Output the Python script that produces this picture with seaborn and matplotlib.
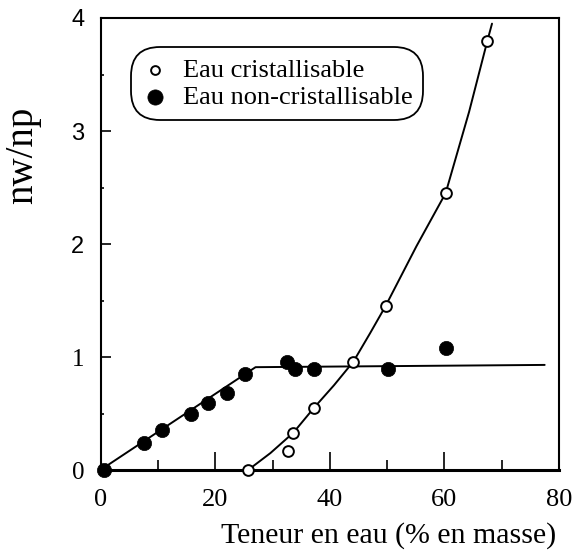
import matplotlib
matplotlib.use("Agg")
import matplotlib.pyplot as plt
import seaborn as sns

# Water content (% by mass) and water/polymer molar ratio
cris_x = [25.7, 32.7, 33.6, 37.2, 44.1, 49.7, 60.2, 67.5]
cris_y = [0.0, 0.17, 0.33, 0.55, 0.96, 1.45, 2.45, 3.80]

non_x = [0.5, 7.5, 10.7, 15.8, 18.7, 22.0, 25.2, 32.5, 33.9, 37.2, 50.2, 60.3]
non_y = [0.0, 0.24, 0.35, 0.50, 0.59, 0.68, 0.85, 0.96, 0.89, 0.89, 0.89, 1.08]

# Guide curves through each series
cris_fit_x = [25.7, 29.6, 33.6, 37.2, 40.7, 44.1, 47.0, 49.7, 55.1, 60.2,
              64.3, 67.5, 68.3]
cris_fit_y = [0.0, 0.15, 0.33, 0.55, 0.75, 0.96, 1.21, 1.45, 1.98, 2.45,
              3.17, 3.80, 3.95]
non_fit_x = [0.5, 27.0, 77.5]
non_fit_y = [0.02, 0.91, 0.93]

x_ticks = [0, 20, 40, 60, 80]
y_ticks = [0, 1, 2, 3, 4]
label_cris = "Eau cristallisable"
label_non = "Eau non-cristallisable"

sns.set_theme(style="ticks")
plt.rcParams["font.family"] = ["Liberation Serif", "DejaVu Serif"]

fig = plt.figure(figsize=(5.78, 5.59), dpi=100)
ax = fig.add_axes([0.1747, 0.1592, 0.7924, 0.8086])

sns.lineplot(x=cris_fit_x, y=cris_fit_y, color="black", lw=1.4, ax=ax,
             estimator=None, zorder=2)
sns.lineplot(x=non_fit_x, y=non_fit_y, color="black", lw=1.4, ax=ax,
             estimator=None, zorder=2)

sns.scatterplot(x=cris_x, y=cris_y, marker="o", s=60, facecolor="white",
                edgecolor="black", linewidth=1.4, zorder=4, ax=ax,
                label=label_cris, clip_on=False)
sns.scatterplot(x=non_x, y=non_y, marker="o", s=105, color="black",
                edgecolor="black", linewidth=0.5, zorder=4, ax=ax,
                label=label_non, clip_on=False)

ax.set_xlim(0, 80)
ax.set_ylim(0, 4)
ax.set_xticks(x_ticks)
ax.set_xticks([10, 30, 50, 70], minor=True)
ax.set_yticks(y_ticks)
ax.set_yticks([0.5, 1.5, 2.5, 3.5], minor=True)
ax.set_xticklabels([str(v) for v in x_ticks], fontsize=19, color="black")
ax.set_yticklabels([str(v) for v in y_ticks], fontsize=18, color="black")
for lab, v in zip(ax.get_yticklabels(), y_ticks):
    if v >= 2:
        lab.set_family(["Liberation Sans", "DejaVu Sans"])
        lab.set_fontsize(17)

for side in ["left", "bottom", "right", "top"]:
    ax.spines[side].set_linewidth(1.5)
    ax.spines[side].set_color("black")
ax.spines["bottom"].set_linewidth(2.2)

ax.tick_params(axis="both", which="both", direction="in", color="black",
               width=1.2)
ax.tick_params(axis="x", which="major", length=13, pad=14)
ax.tick_params(axis="x", which="minor", length=7)
ax.tick_params(axis="y", which="major", length=7, pad=12)
ax.tick_params(axis="y", which="minor", length=2.5)

ax.set_xlabel("Teneur en eau (% en masse)", fontsize=21.5, color="black")
ax.xaxis.set_label_coords(0.629, -0.115)
ax.set_ylabel("nw/np", fontsize=28, color="black")
ax.yaxis.set_label_coords(-0.13, 0.697)

leg = ax.legend(loc="upper left", bbox_to_anchor=(0.082, 0.918),
                borderaxespad=0, frameon=True, fancybox=True, fontsize=19,
                handletextpad=0.55, labelspacing=0.15, borderpad=0.12,
                handlelength=1.0)
leg.legend_handles[0].set_sizes([40])
leg.legend_handles[1].set_sizes([120])
frame = leg.get_frame()
frame.set_edgecolor("black")
frame.set_linewidth(1.3)
frame.set_facecolor("white")
frame.set_alpha(1)
frame.set_boxstyle("round", pad=0.3, rounding_size=1.1)
for t in leg.get_texts():
    t.set_color("black")

fig.savefig("out.png", dpi=100)
